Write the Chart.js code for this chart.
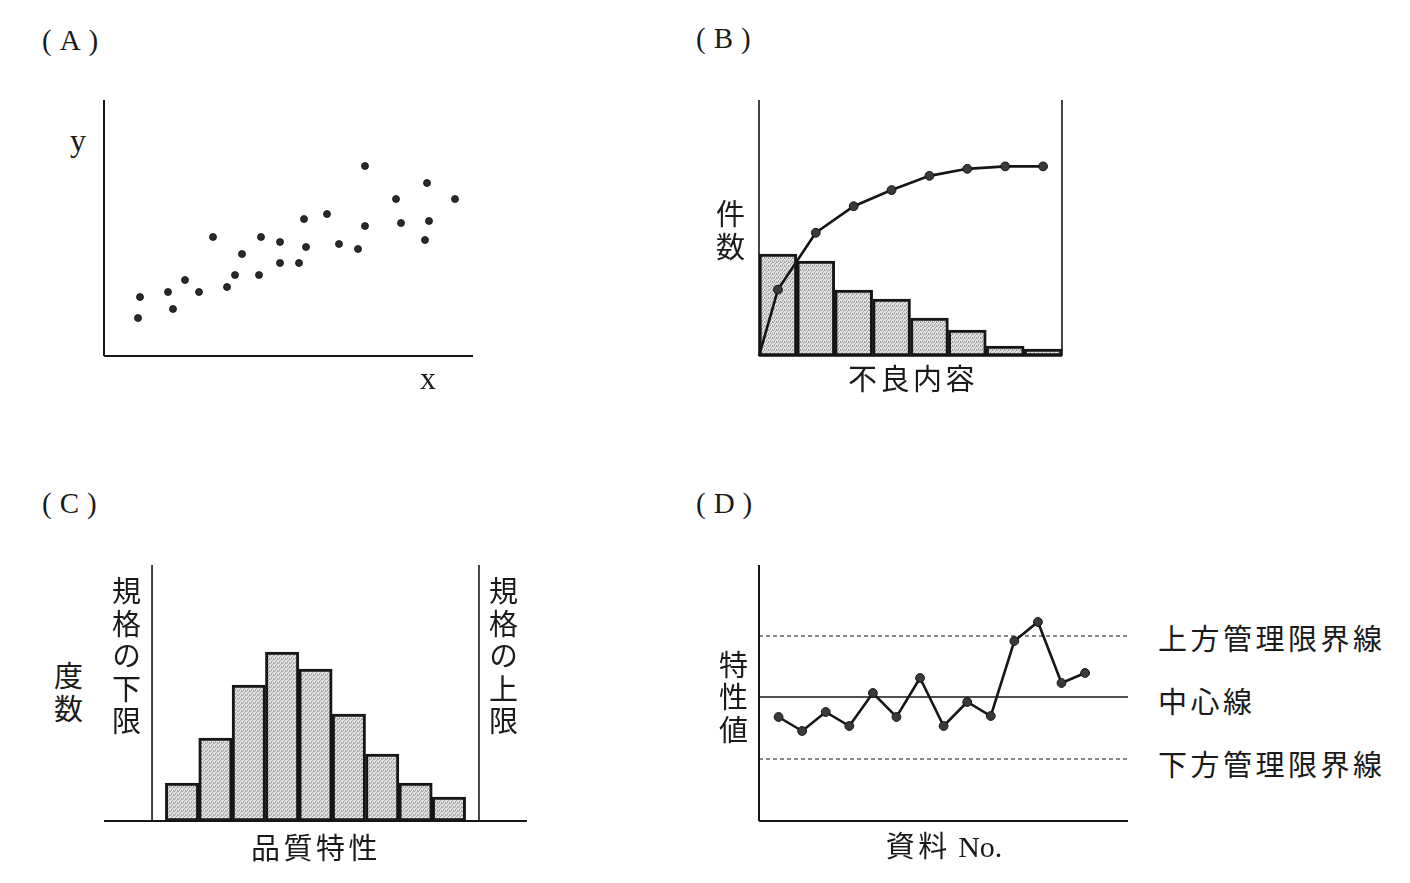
<!DOCTYPE html>
<html>
<head>
<meta charset="utf-8">
<script src="https://cdn.jsdelivr.net/npm/chart.js@4.4.1/dist/chart.umd.min.js"></script>
<style>
body{margin:0;background:#fff;width:1410px;height:883px;position:relative;overflow:hidden;
  font-family:"Liberation Serif","Noto Sans CJK JP",serif;color:#1a1a1a;}
canvas{position:absolute;}
.t{position:absolute;white-space:nowrap;line-height:1;transform:translate(-50%,-50%);}
.l{transform:translate(0,-50%);}
.cj{font-family:"Noto Sans CJK JP",sans-serif;font-weight:400;font-size:29px;letter-spacing:3.5px;}
.v{writing-mode:vertical-rl;}
.pan{font-size:29px;letter-spacing:8px;}
.lat{font-size:32px;}
</style>
</head>
<body>
<canvas id="cA" width="390" height="276" style="left:94px;top:90px"></canvas>
<canvas id="cB" width="323" height="276" style="left:749px;top:90px"></canvas>
<canvas id="cC" width="443" height="276" style="left:94px;top:555px"></canvas>
<canvas id="cD" width="389" height="276" style="left:749px;top:555px"></canvas>

<div class="t l pan" style="left:42px;top:40px">(A)</div>
<div class="t l pan" style="left:696px;top:38px">(B)</div>
<div class="t l pan" style="left:42px;top:503px">(C)</div>
<div class="t l pan" style="left:696px;top:503px">(D)</div>

<div class="t lat" style="left:78px;top:140px">y</div>
<div class="t lat" style="left:428px;top:378px">x</div>

<div class="t cj v" style="left:730px;top:232px">件数</div>
<div class="t cj" style="left:913px;top:377px">不良内容</div>

<div class="t cj v" style="left:68px;top:694px">度数</div>
<div class="t cj v" style="left:126px;top:658px">規格の下限</div>
<div class="t cj v" style="left:503px;top:658px">規格の上限</div>
<div class="t cj" style="left:316px;top:846px">品質特性</div>

<div class="t cj v" style="left:733px;top:699px">特性値</div>
<div class="t" style="left:944px;top:846px"><span class="cj">資料</span><span style="font-size:30px"> No.</span></div>
<div class="t l cj" style="left:1158px;top:637px">上方管理限界線</div>
<div class="t l cj" style="left:1158px;top:700px">中心線</div>
<div class="t l cj" style="left:1158px;top:763px">下方管理限界線</div>

<script>
// (A) scatter
const scatterX = [34, 36, 64, 69, 81, 95, 109, 123, 131, 138, 155, 157, 176, 176, 195, 200, 202, 223, 235, 254, 261, 261, 292, 297, 321, 323, 325, 351];
const scatterY = [38, 59, 64, 47, 76, 64, 119, 69, 81, 102, 81, 119, 114, 93, 93, 137, 109, 142, 112, 107, 190, 130, 157, 133, 116, 173, 135, 157];

// (B) pareto
const paretoCounts = [102, 95, 66, 57, 38, 26, 10, 7];
const paretoCumPct = [0, 35, 65, 79, 87.5, 95, 98.7, 100, 100];

// (C) histogram
const histClasses = [1, 2, 3, 4, 5, 6, 7, 8, 9];
const histCounts = [38, 83, 136, 169, 152, 107, 67, 38, 24];
const specLower = 0.1;
const specUpper = 9.9;

// (D) control chart
const ctrlNo = [1, 2, 3, 4, 5, 6, 7, 8, 9, 10, 11, 12, 13, 14];
const ctrlValues = [104, 90, 109, 95, 128, 104, 143, 95, 119, 105, 180, 199, 138, 148];
const ucl = 185;
const centerLine = 124;
const lcl = 62;

const ink = '#161616';

const axisLines = {
  id: 'axisLines',
  beforeDatasetsDraw(chart, args, opts) {
    const a = chart.chartArea, ctx = chart.ctx;
    if (!opts.sides) return;
    ctx.save();
    ctx.strokeStyle = ink;
    ctx.lineWidth = opts.width || 2;
    ctx.beginPath();
    opts.sides.forEach(s => {
      if (s == 'left') { ctx.moveTo(a.left, a.top); ctx.lineTo(a.left, a.bottom); }
      if (s == 'right') { ctx.moveTo(a.right, a.top); ctx.lineTo(a.right, a.bottom); }
      if (s == 'bottom') { ctx.moveTo(a.left, a.bottom); ctx.lineTo(a.right, a.bottom); }
    });
    ctx.stroke();
    ctx.restore();
  }
};
Chart.register(axisLines);

// stippled grey like the printed screen tone
function shade() {
  const c = document.createElement('canvas');
  c.width = 4; c.height = 4;
  const g = c.getContext('2d');
  g.fillStyle = '#e2e2e2';
  g.fillRect(0, 0, 4, 4);
  g.fillStyle = '#a4a4a4';
  [[0, 0], [2, 1], [1, 2], [3, 3], [3, 0], [1, 3]].forEach(p => g.fillRect(p[0], p[1], 1, 1));
  return g.createPattern(c, 'repeat');
}

function common(sides, width) {
  return {
    responsive: false,
    animation: false,
    devicePixelRatio: 1,
    events: [],
    layout: {padding: 10},
    plugins: {legend: {display: false}, tooltip: {enabled: false}, axisLines: {sides: sides, width: width}}
  };
}

function lineAt(x0, y0, x1, y1, dash, w) {
  return {type: 'line', data: [{x: x0, y: y0}, {x: x1, y: y1}], borderColor: ink, borderWidth: w,
    borderDash: dash, pointRadius: 0, clip: false, order: 3};
}

// (A)
let optA = common(['left', 'bottom'], 2);
optA.layout.padding = {left: 10, top: 10, right: 11, bottom: 10};
optA.scales = {
  x: {type: 'linear', min: 0, max: 369, display: false},
  y: {min: 0, max: 256, display: false}
};
new Chart(document.getElementById('cA'), {
  type: 'scatter',
  data: {datasets: [{
    data: scatterX.map((v, i) => ({x: v, y: scatterY[i]})),
    pointRadius: 3.5, pointBackgroundColor: '#2a2a2a', pointBorderColor: '#111', pointBorderWidth: 0.8, clip: false
  }]},
  options: optA
});

// (B)
const fill = shade();
let optB = common(['left', 'right', 'bottom'], 1.6);
optB.scales = {
  x: {type: 'linear', min: 0, max: 8, display: false, offset: false, ticks: {stepSize: 1, includeBounds: false}},
  y: {min: 0, max: 256, display: false},
  y1: {min: 0, max: 135, display: false, position: 'right'}
};
new Chart(document.getElementById('cB'), {
  type: 'bar',
  data: {datasets: [
    {type: 'bar', data: paretoCounts.map((v, i) => ({x: i + 0.5, y: v})), backgroundColor: fill,
      borderColor: ink, borderWidth: 3, borderSkipped: false, barPercentage: 1, categoryPercentage: 1,
      yAxisID: 'y', order: 2, clip: false},
    {type: 'line', data: paretoCumPct.map((v, i) => ({x: i == 0 ? 0 : i - 0.5, y: v})), yAxisID: 'y1',
      borderColor: ink, borderWidth: 2.6, tension: 0,
      pointRadius: paretoCumPct.map((v, i) => i == 0 ? 0 : 4.4),
      pointBackgroundColor: '#3a3a3a', pointBorderColor: '#111', pointBorderWidth: 1, order: 1, clip: false}
  ]},
  options: optB
});

// (C)
let optC = common(['bottom'], 2);
optC.scales = {
  x: {type: 'linear', min: -1.34, max: 11.34, display: false, offset: false, ticks: {stepSize: 1, includeBounds: false}},
  y: {min: 0, max: 256, display: false}
};
new Chart(document.getElementById('cC'), {
  type: 'bar',
  data: {datasets: [
    {type: 'bar', data: histClasses.map((c, i) => ({x: c, y: histCounts[i]})), backgroundColor: fill,
      borderColor: ink, borderWidth: 3, borderSkipped: false, barPercentage: 1, categoryPercentage: 1,
      order: 2, clip: false},
    lineAt(specLower, 0, specLower, 256, [], 1.6),
    lineAt(specUpper, 0, specUpper, 256, [], 1.6)
  ]},
  options: optC
});

// (D)
let optD = common(['left', 'bottom'], 2);
optD.scales = {
  x: {type: 'linear', min: 0.17, max: 15.82, display: false},
  y: {min: 0, max: 256, display: false}
};
new Chart(document.getElementById('cD'), {
  type: 'line',
  data: {datasets: [
    lineAt(0.17, ucl, 15.82, ucl, [4, 3], 1.2),
    lineAt(0.17, centerLine, 15.82, centerLine, [], 1.5),
    lineAt(0.17, lcl, 15.82, lcl, [4, 3], 1.2),
    {data: ctrlNo.map((n, i) => ({x: n, y: ctrlValues[i]})), borderColor: ink, borderWidth: 2.6, tension: 0,
      pointRadius: 4.4, pointBackgroundColor: '#3a3a3a', pointBorderColor: '#111', pointBorderWidth: 1,
      order: 1, clip: false}
  ]},
  options: optD
});
</script>
</body>
</html>
